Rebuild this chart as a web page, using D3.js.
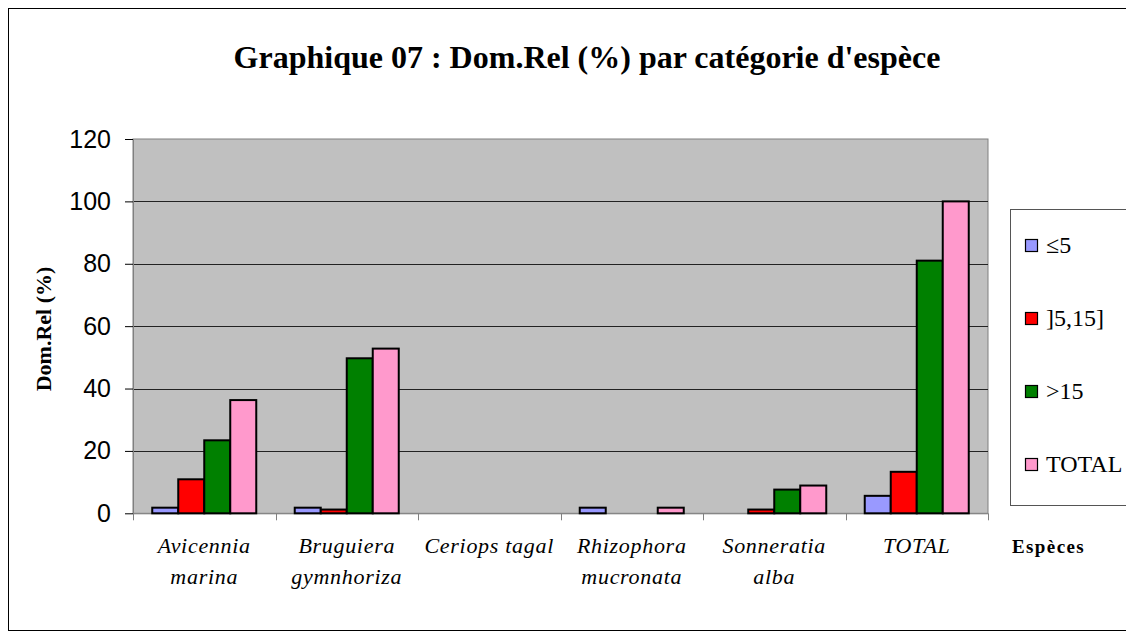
<!DOCTYPE html>
<html>
<head>
<meta charset="utf-8">
<script src="https://cdn.jsdelivr.net/npm/d3@7"></script>
<style>
  body { margin: 0; background: #fff; }
  svg { display: block; }
</style>
</head>
<body>
<svg id="chart"></svg>
<script>
// categories and series
const categories = [
  ["Avicennia", "marina"],
  ["Bruguiera", "gymnhoriza"],
  ["Ceriops tagal"],
  ["Rhizophora", "mucronata"],
  ["Sonneratia", "alba"],
  ["TOTAL"]
];
const seriesNames = ["≤5", "]5,15]", ">15", "TOTAL"];
const seriesColors = ["#9999FF", "#FF0000", "#008000", "#FF99CC"];

const le5     = [1.8, 1.8, 0, 1.8, 0, 5.6];
const from5   = [10.9, 1.2, 0, 0, 1.2, 13.3];
const gt15    = [23.4, 49.7, 0, 0, 7.6, 81.0];
const total   = [36.3, 52.8, 0, 1.8, 8.9, 100];
const yTicks  = [0, 20, 40, 60, 80, 100, 120];

const seriesValues = [le5, from5, gt15, total];

const W = 1126, H = 638;
const plot = {left: 133, right: 988, top: 139, bottom: 513.3};
const serif = '"Liberation Serif", "Times New Roman", serif';

const svg = d3.select('#chart')
    .attr('width', W)
    .attr('height', H);

// outer chart frame
svg.append('rect')
    .attr('x', 8.5).attr('y', 8.5)
    .attr('width', W + 20).attr('height', 622)
    .attr('fill', '#fff')
    .attr('stroke', '#000')
    .attr('stroke-width', 1);

// title
svg.append('text')
    .attr('x', 587)
    .attr('y', 68)
    .attr('text-anchor', 'middle')
    .attr('font-family', serif)
    .attr('font-weight', 'bold')
    .attr('font-size', 32)
    .text("Graphique 07 : Dom.Rel (%) par catégorie d'espèce");

const catKeys = categories.map(d => d.join(' '));

const x0 = d3.scaleBand()
    .domain(catKeys)
    .range([plot.left, plot.right])
    .padding(0);

const x1 = d3.scaleBand()
    .domain(seriesNames)
    .range([0, x0.bandwidth()])
    .paddingInner(0)
    .paddingOuter(0.74);

const y = d3.scaleLinear()
    .domain([0, 120])
    .range([plot.bottom, plot.top]);

// plot background
svg.append('rect')
    .attr('x', plot.left)
    .attr('y', plot.top)
    .attr('width', plot.right - plot.left)
    .attr('height', plot.bottom - plot.top)
    .attr('fill', '#C0C0C0')
    .attr('stroke', '#808080')
    .attr('stroke-width', 1);

// gridlines
svg.append('g')
    .selectAll('line')
    .data(yTicks.filter(d => d > 0 && d < 120))
    .join('line')
    .attr('x1', plot.left)
    .attr('x2', plot.right)
    .attr('y1', d => Math.round(y(d)) + 0.5)
    .attr('y2', d => Math.round(y(d)) + 0.5)
    .attr('stroke', '#222')
    .attr('stroke-width', 1);

// y axis
const yAxisG = svg.append('g')
    .attr('transform', `translate(${plot.left},0)`)
    .call(d3.axisLeft(y).tickValues(yTicks).tickSize(8).tickPadding(14).tickSizeOuter(0));
yAxisG.select('.domain').attr('stroke', '#808080');
yAxisG.selectAll('.tick line').attr('stroke', '#000');
yAxisG.selectAll('.tick text')
    .attr('font-family', '"Liberation Sans", Arial, sans-serif')
    .attr('font-size', 25)
    .attr('fill', '#000');

// x axis with ticks at category boundaries
const xAxisG = svg.append('g')
    .attr('transform', `translate(0,${plot.bottom})`);
xAxisG.append('line')
    .attr('x1', plot.left).attr('x2', plot.right)
    .attr('y1', 0.5).attr('y2', 0.5)
    .attr('stroke', '#808080');
xAxisG.selectAll('.xtick')
    .data(catKeys.map(k => x0(k)).concat([plot.right]))
    .join('line')
    .attr('class', 'xtick')
    .attr('x1', d => Math.round(d) + 0.5)
    .attr('x2', d => Math.round(d) + 0.5)
    .attr('y1', 0)
    .attr('y2', 7)
    .attr('stroke', '#808080');

// category labels
const labels = svg.append('g')
    .selectAll('text')
    .data(categories)
    .join('text')
    .attr('x', (d, i) => x0(catKeys[i]) + x0.bandwidth() / 2)
    .attr('y', 553)
    .attr('text-anchor', 'middle')
    .attr('font-family', serif)
    .attr('font-style', 'italic')
    .attr('font-size', 22)
    .attr('letter-spacing', 0.7);
labels.selectAll('tspan')
    .data(d => d)
    .join('tspan')
    .attr('x', function() { return d3.select(this.parentNode).attr('x'); })
    .attr('dy', (d, i) => i === 0 ? 0 : 31)
    .text(d => d);

// bars
const groups = svg.append('g')
    .selectAll('g')
    .data(catKeys)
    .join('g')
    .attr('transform', d => `translate(${x0(d)},0)`);

groups.selectAll('rect')
    .data((k, ci) => seriesNames.map((s, si) => ({s, si, v: seriesValues[si][ci]})).filter(d => d.v > 0))
    .join('rect')
    .attr('x', d => x1(d.s))
    .attr('y', d => y(d.v))
    .attr('width', x1.bandwidth())
    .attr('height', d => y(0) - y(d.v))
    .attr('fill', d => seriesColors[d.si])
    .attr('stroke', '#000')
    .attr('stroke-width', 2);

// y axis title
svg.append('text')
    .attr('transform', 'translate(51,329) rotate(-90)')
    .attr('text-anchor', 'middle')
    .attr('font-family', serif)
    .attr('font-weight', 'bold')
    .attr('font-size', 22)
    .text('Dom.Rel (%)');

// x axis title
svg.append('text')
    .attr('x', 1012)
    .attr('y', 553)
    .attr('font-family', serif)
    .attr('font-weight', 'bold')
    .attr('font-size', 19)
    .attr('letter-spacing', 1.4)
    .text('Espèces');

// legend
const legend = svg.append('g');
legend.append('rect')
    .attr('x', 1010.5).attr('y', 209.5)
    .attr('width', 140).attr('height', 296)
    .attr('fill', '#fff')
    .attr('stroke', '#555')
    .attr('stroke-width', 1);

const legendItems = legend.selectAll('g')
    .data(seriesNames)
    .join('g')
    .attr('transform', (d, i) => `translate(1025,${245 + i * 73})`);
legendItems.append('rect')
    .attr('x', 0.5).attr('y', -5.5)
    .attr('width', 12).attr('height', 12)
    .attr('fill', (d, i) => seriesColors[i])
    .attr('stroke', '#000')
    .attr('stroke-width', 1.2);
legendItems.append('text')
    .attr('x', 21)
    .attr('y', 8)
    .attr('font-family', serif)
    .attr('font-size', 24)
    .text(d => d);
</script>
</body>
</html>
